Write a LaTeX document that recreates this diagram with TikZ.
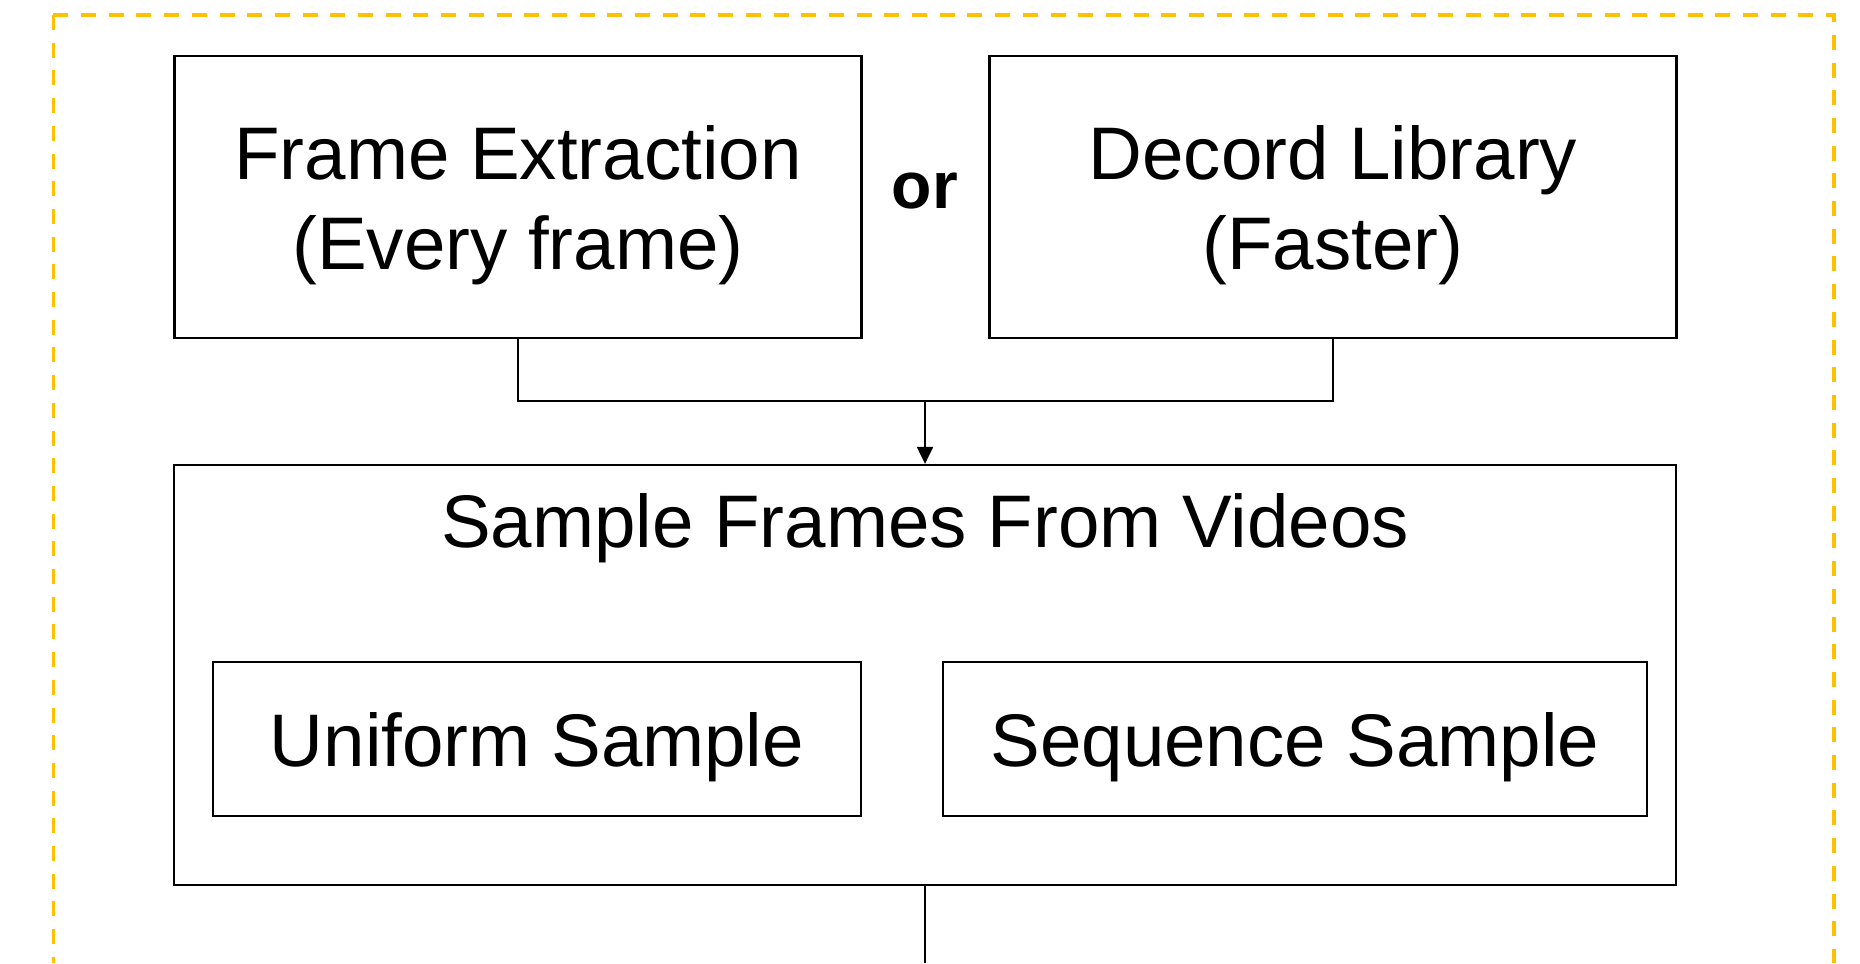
\documentclass[tikz,border=0pt]{standalone}
\usepackage{fontspec}
\setmainfont{Liberation Sans}
\usepackage{tikz}
\usetikzlibrary{arrows.meta,positioning,calc}
\definecolor{FrameGold}{RGB}{255,192,0}

\begin{document}
\begin{tikzpicture}[
  stagebox/.style={
    draw,
    minimum width=6.87cm,
    minimum height=2.82cm,
    align=center,
    text depth=0pt,
    inner sep=0pt,
    line width=0.65pt
  },
  subbox/.style={draw, minimum height=1.54cm, text depth=0pt, inner sep=0pt, line width=0.65pt},
  link/.style={line width=0.6pt},
  flow/.style={-{Triangle[length=1.7mm,width=1.6mm]}, line width=0.6pt},
  groupframe/.style={draw=FrameGold, line width=1pt, dash pattern=on 1.5mm off 1.27mm},
  orlabel/.style={font=\fontsize{18.8}{22}\selectfont\bfseries},
  font=\fontsize{21.2}{25.6}\selectfont
]
\useasboundingbox (0,0) rectangle (18.6,-9.63);
\def\XLeft{5.18}
\def\XMid{9.25}
\def\XRight{13.33}

% dashed group frame, runs on past the lower edge
\draw[groupframe] (0.533,-0.15) -- (0.533,-9.63);
\draw[groupframe] (0.533,-0.15) -- (18.34,-0.15) -- (18.34,-9.63);

\node[stagebox] (extract) at (\XLeft,-1.97) {Frame Extraction\\(Every frame)};
\node[stagebox] (decord) at (\XRight,-1.97) {Decord Library\\(Faster)};
\node[orlabel] (ortext) at (\XMid,-1.91) {or};

\node[draw, line width=0.65pt, minimum width=15.02cm, minimum height=4.2cm] (sample) at (\XMid,-6.75) {};
\node[anchor=base] (sampletitle) at (\XMid,-5.475) {Sample Frames From Videos};
\node[subbox, minimum width=6.48cm] (uniform) at (5.37,-7.39) {Uniform Sample};
\node[subbox, minimum width=7.04cm] (sequence) at (12.95,-7.39) {Sequence Sample};

\coordinate (merge) at (\XMid,-4.01);
\coordinate (nextstage) at (\XMid,-9.63);
\draw[link] (extract.south) |- (merge) -| (decord.south);
\draw[flow] (merge) -- (sample.north);
\draw[link] (sample.south) -- (nextstage);
\end{tikzpicture}
\end{document}
